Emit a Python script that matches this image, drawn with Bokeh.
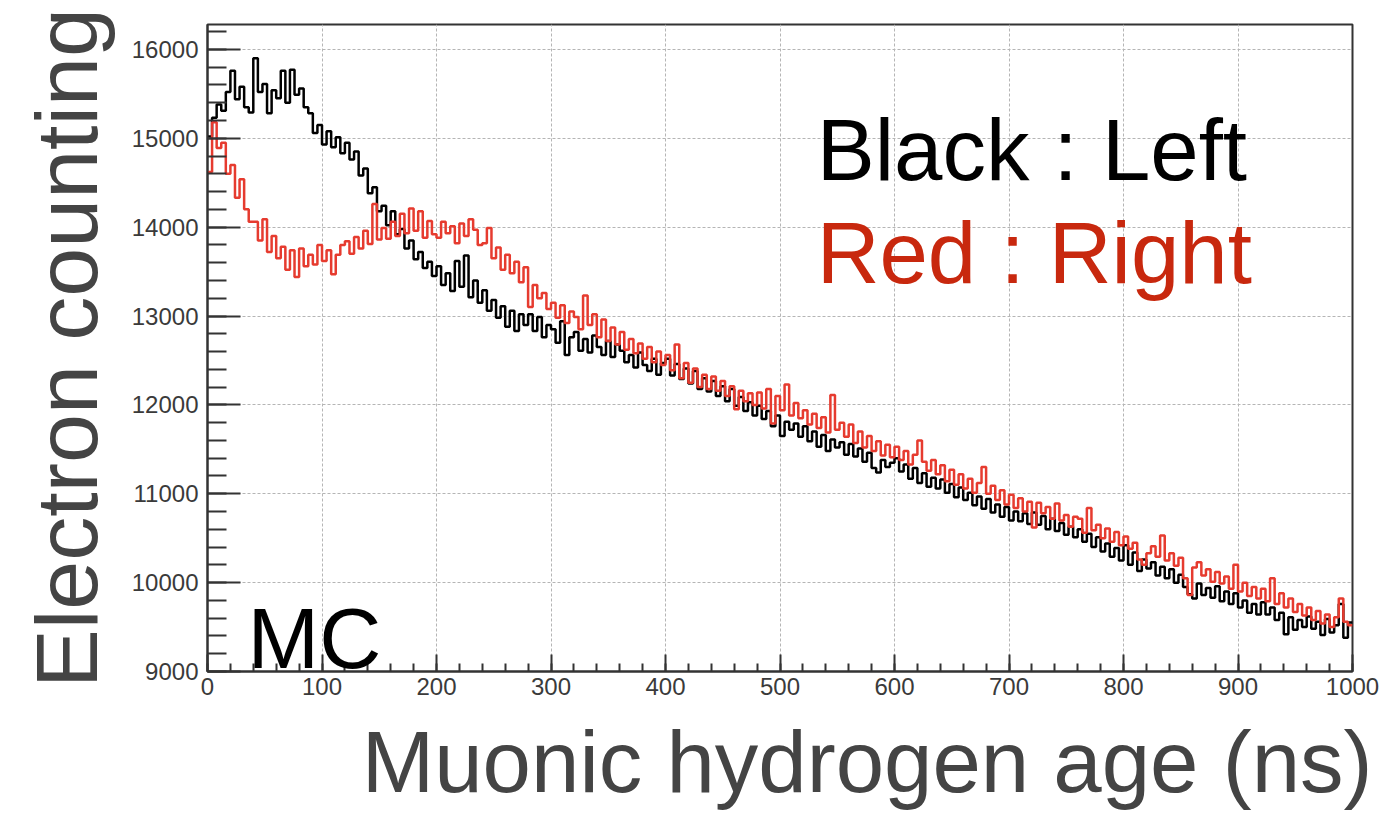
import numpy as np
from bokeh.plotting import figure
from bokeh.models import Label, SingleIntervalTicker, Range1d, Title
from bokeh.embed import file_html
from bokeh.resources import INLINE

# ---------------- data ----------------
BIN_WIDTH_NS = 4  # histogram bin width (ns), bins from 0 to 1000 ns

black_left = [
    15020, 15230, 15380, 15310, 15520, 15760, 15440, 15580, 15350, 15290,
    15900, 15520, 15610, 15280, 15540, 15450, 15760, 15400, 15770, 15490,
    15560, 15350, 15280, 15060, 15150, 14930, 15080, 14900, 15010, 14830,
    14950, 14760, 14850, 14580, 14660, 14380, 14450, 14180, 14240, 14020,
    14180, 13920, 13980, 13760, 13850, 13640, 13720, 13540, 13610, 13450,
    13560, 13350, 13480, 13280, 13620, 13330, 13680, 13210, 13400, 13150,
    13290, 13060, 13180, 12980, 13110, 12880, 13060, 12830, 13020, 12900,
    13020, 12830, 12990, 12760, 12900, 12850, 12700, 12940, 12560, 12760,
    12820, 12610, 12740, 12590, 12780, 12650, 12560, 12720, 12540, 12680,
    12610, 12480, 12560, 12420, 12590, 12450, 12380, 12520, 12340, 12470,
    12520, 12330, 12460, 12290, 12410, 12240, 12380, 12180, 12300, 12150,
    12270, 12100, 12210, 12040, 12180, 11990, 12090, 11930, 12030, 11880,
    11990, 11840, 11930, 11760, 11880, 11650, 11810, 11720, 11790, 11640,
    11760, 11590, 11700, 11530, 11660, 11480, 11610, 11520, 11580, 11440,
    11560, 11420, 11510, 11360, 11460, 11290, 11240, 11380, 11300, 11350,
    11400, 11250, 11330, 11170, 11290, 11120, 11230, 11080, 11180, 11060,
    11160, 11010, 11110, 10960, 11070, 10930, 11010, 10870, 10970, 10830,
    10940, 10790, 10880, 10740, 10850, 10700, 10800, 10690, 10780, 10660,
    10790, 10650, 10750, 10600, 10720, 10580, 10670, 10540, 10630, 10510,
    10600, 10460, 10550, 10400, 10510, 10350, 10440, 10290, 10390, 10250,
    10420, 10200, 10340, 10130, 10260, 10160, 10230, 10080, 10180, 10050,
    10150, 10000, 10090, 9950, 9870, 9820, 9990, 9860, 9940, 9830,
    9960, 9790, 9900, 9760, 9880, 9720, 9800, 9660, 9760, 9640,
    9780, 9640, 9720, 9580, 9660, 9420, 9610, 9470, 9580, 9500,
    9620, 9480, 9560, 9410, 9590, 9440, 9520, 9760, 9380, 9550,
]

red_right = [
    14620, 15180, 14890, 14950, 14600, 14700, 14330, 14540, 14200, 14060,
    14060, 13850, 14090, 13720, 13900, 13650, 13780, 13520, 13740, 13440,
    13760, 13560, 13690, 13580, 13800, 13620, 13740, 13470, 13690, 13800,
    13840, 13700, 13890, 13760, 13960, 13810, 14260, 13860, 13990, 13870,
    14060, 13900, 14150, 13930, 14210, 13960, 14180, 13880, 14070, 13920,
    13880, 14060, 13930, 14010, 13820, 14040, 13900, 14090, 13970, 13800,
    13820, 13990, 13650, 13770, 13520, 13690, 13480, 13610, 13380, 13550,
    13100, 13350, 13200, 13260, 13080, 13150, 12980, 13120, 12920, 13050,
    12990, 12850, 13230, 12900, 13020, 12760, 12960, 12720, 12870, 12680,
    12820, 12620, 12740, 12580, 12690, 12520, 12650, 12480, 12600, 12450,
    12560, 12390, 12680, 12300, 12470, 12250, 12410, 12200, 12340, 12180,
    12320, 12160, 12270, 12100, 12210, 11950, 12160, 12040, 12130, 12000,
    12140, 11960, 12180, 11790, 12100, 11940, 12230, 11880, 12020, 11850,
    11940, 11780, 11900, 11740, 11860, 11690, 12110, 11720, 11800, 11640,
    11780, 11570, 11700, 11520, 11650, 11480, 11590, 11430, 11550, 11410,
    11530, 11380, 11480, 11330, 11440, 11600, 11360, 11260, 11380, 11220,
    11320, 11140, 11270, 11100, 11220, 11060, 11170, 11010, 11120, 11300,
    11000, 11090, 10930, 11040, 10880, 10990, 10840, 10950, 10800, 10910,
    10620, 10900, 10780, 10850, 10720, 10890, 10700, 10760, 10630, 10740,
    10720, 10560, 10840, 10590, 10650, 10500, 10610, 10460, 10570, 10420,
    10520, 10380, 10450, 10260, 10200, 10330, 10410, 10290, 10530, 10250,
    10330, 10190, 10280, 10050, 9860, 10170, 10230, 10080, 10150, 10010,
    10120, 9990, 10070, 9930, 10200, 9900, 10000, 9850, 9950, 9820,
    9930, 9790, 10050, 9760, 9880, 9720, 9820, 9670, 9760, 9630,
    9720, 9580, 9680, 9540, 9640, 9500, 9610, 9820, 9560, 9520,
]

x_axis_range = [0, 1000]
y_axis_range = [9000, 16280]
x_tick_step = 100
y_tick_step = 1000

x_title = "Muonic hydrogen age (ns)"
y_title = "Electron counting"
legend_black = "Black : Left"
legend_red = "Red : Right"
tag_text = "MC"

# ---------------- figure ----------------
FONT = "Liberation Sans"
TITLE_GRAY = "#444444"
CURVE_RED = "#e63b2f"
TEXT_RED = "#c8280e"

p = figure(
    width=1400, height=823,
    x_range=Range1d(*x_axis_range), y_range=Range1d(*y_axis_range),
    output_backend="svg", toolbar_location=None,
    min_border_left=207, min_border_right=48,
    min_border_top=24, min_border_bottom=152,
)
p.background_fill_color = "white"
p.border_fill_color = "white"
p.outline_line_color = "#333333"
p.outline_line_width = 2

# grid
for g in (p.xgrid, p.ygrid):
    g.grid_line_color = "#b5b5b5"
    g.grid_line_dash = "3 2"
    g.grid_line_width = 1

# axes
p.xaxis.ticker = SingleIntervalTicker(interval=x_tick_step, num_minor_ticks=5)
p.yaxis.ticker = SingleIntervalTicker(interval=y_tick_step, num_minor_ticks=5)
for ax in (p.xaxis, p.yaxis):
    ax.axis_line_color = "#333333"
    ax.axis_line_width = 2
    ax.major_tick_line_color = "#333333"
    ax.minor_tick_line_color = "#333333"
    ax.major_tick_line_width = 2
    ax.minor_tick_line_width = 2
    ax.major_tick_out = 0
    ax.minor_tick_out = 0
    ax.major_label_text_font = FONT
    ax.major_label_text_color = "#3a3a3a"
    ax.major_label_text_font_size = "24px"
p.xaxis.major_tick_in = 17
p.xaxis.minor_tick_in = 8
p.yaxis.major_tick_in = 33
p.yaxis.minor_tick_in = 19
p.xaxis.major_label_standoff = 6
p.yaxis.major_label_standoff = 9

# histograms as steps
edges = np.arange(len(black_left) + 1) * BIN_WIDTH_NS
p.step(edges, black_left + [black_left[-1]], mode="after",
       line_color="black", line_width=2.5)
edges_r = np.arange(len(red_right) + 1) * BIN_WIDTH_NS
p.step(edges_r, red_right + [red_right[-1]], mode="after",
       line_color=CURVE_RED, line_width=2.5)

# texts inside the frame
p.add_layout(Label(x=35, y=9380, text=tag_text, text_font=FONT,
                   text_font_size="86px", text_color="black",
                   text_baseline="alphabetic", text_align="left"))
p.add_layout(Label(x=532, y=14870, text=legend_black, text_font=FONT,
                   text_font_size="87px", text_color="black",
                   text_baseline="alphabetic", text_align="left"))
p.add_layout(Label(x=532, y=13710, text=legend_red, text_font=FONT,
                   text_font_size="87px", text_color=TEXT_RED,
                   text_baseline="alphabetic", text_align="left"))

# axis titles as side titles
xt = Title(text=x_title, align="right", offset=-20, standoff=27,
           text_font=FONT, text_font_size="87px", text_font_style="normal",
           text_color=TITLE_GRAY)
p.add_layout(xt, "below")
yt = Title(text=y_title, align="center", standoff=26,
           text_font=FONT, text_font_size="88px", text_font_style="normal",
           text_color=TITLE_GRAY)
p.add_layout(yt, "left")

open("out.html", "w").write(file_html(p, INLINE))
